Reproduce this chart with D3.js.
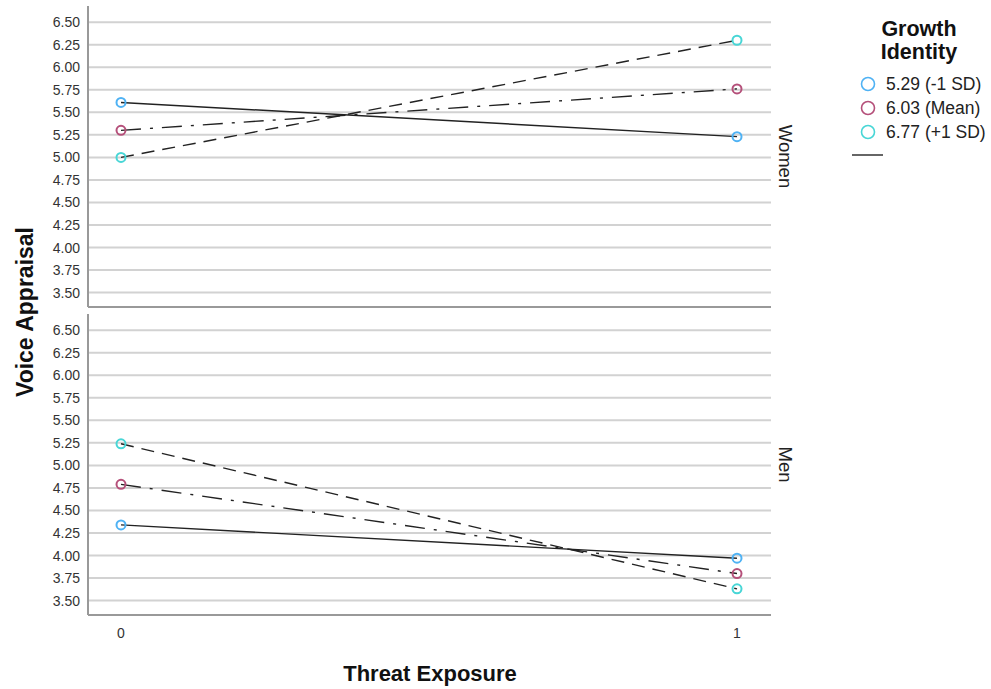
<!DOCTYPE html>
<html>
<head>
<meta charset="utf-8">
<script src="https://cdn.jsdelivr.net/npm/d3@7"></script>
<style>
  body { margin: 0; background: #fff; }
  svg { font-family: "Liberation Sans", Arial, sans-serif; }
</style>
</head>
<body>
<svg id="chart" width="991" height="689"></svg>
<script>
// chart values
var panels = ['Women', 'Men']
var threat = [0, 1]
var xTickLabels = ['0', '1']
var groups = ['5.29 (-1 SD)', '6.03 (Mean)', '6.77 (+1 SD)']
var womenVals = [[5.61, 5.23], [5.30, 5.76], [5.00, 6.30]]
var menVals = [[4.34, 3.97], [4.79, 3.80], [5.24, 3.63]]
var yTicks = [3.50, 3.75, 4.00, 4.25, 4.50, 4.75, 5.00, 5.25, 5.50, 5.75, 6.00, 6.25, 6.50]
var legendTitle = ['Growth', 'Identity']

var colors = ['#4fb2f4', '#b5507a', '#48d6d6']
var dashes = [null, '20,9,3,9', '13,8']

var svg = d3.select('#chart')

var left = 88, right = 771
var x = d3.scaleLinear().domain([0, 1]).range([121, 737])

var panelRanges = [[307, 6], [615, 314]]
var panelVals = [womenVals, menVals]

panels.forEach(function (name, pi) {
  var r = panelRanges[pi]
  var y = d3.scaleLinear().domain([3.34, 6.68]).range(r)
  var g = svg.append('g')

  // gridlines
  g.selectAll('line.grid')
    .data(yTicks)
    .enter().append('line')
    .attr('class', 'grid')
    .attr('x1', left).attr('x2', right)
    .attr('y1', function (d) { return y(d) })
    .attr('y2', function (d) { return y(d) })
    .attr('stroke', '#d2d2d2')
    .attr('stroke-width', 2)

  // y axis
  var yAxis = d3.axisLeft(y)
    .tickValues(yTicks)
    .tickSize(0)
    .tickPadding(8)
    .tickFormat(d3.format('.2f'))
  var ag = g.append('g').attr('transform', 'translate(' + left + ',0)').call(yAxis)
  ag.select('.domain').remove()
  ag.selectAll('text')
    .attr('font-size', 14)
    .attr('fill', '#333')
    .attr('font-family', '"Liberation Sans", Arial, sans-serif')

  // frame: left + bottom
  g.append('line')
    .attr('x1', left).attr('x2', left)
    .attr('y1', r[1]).attr('y2', r[0])
    .attr('stroke', '#999').attr('stroke-width', 2)
  g.append('line')
    .attr('x1', left).attr('x2', right)
    .attr('y1', r[0]).attr('y2', r[0])
    .attr('stroke', '#999').attr('stroke-width', 2)

  // lines
  var line = d3.line()
    .x(function (d, i) { return x(threat[i]) })
    .y(function (d) { return y(d) })

  panelVals[pi].forEach(function (vals, gi) {
    g.append('path')
      .datum(vals)
      .attr('d', line)
      .attr('fill', 'none')
      .attr('stroke', '#222')
      .attr('stroke-width', 1.4)
      .attr('stroke-dasharray', dashes[gi])
  })

  panelVals[pi].forEach(function (vals, gi) {
    g.selectAll('circle.g' + gi)
      .data(vals)
      .enter().append('circle')
      .attr('class', 'g' + gi)
      .attr('cx', function (d, i) { return x(threat[i]) })
      .attr('cy', function (d) { return y(d) })
      .attr('r', 4.5)
      .attr('fill', 'none')
      .attr('stroke', colors[gi])
      .attr('stroke-width', 2)
  })

  // facet label, rotated
  var cy = (r[0] + r[1]) / 2
  g.append('text')
    .attr('transform', 'translate(779,' + cy + ') rotate(90)')
    .attr('text-anchor', 'middle')
    .attr('font-size', 18.5)
    .attr('fill', '#222')
    .text(name)
})

// x tick labels
svg.selectAll('text.xt')
  .data(threat)
  .enter().append('text')
  .attr('class', 'xt')
  .attr('x', function (d) { return x(d) })
  .attr('y', 638)
  .attr('text-anchor', 'middle')
  .attr('font-size', 14)
  .attr('fill', '#333')
  .text(function (d, i) { return xTickLabels[i] })

// axis titles
svg.append('text')
  .attr('x', 430).attr('y', 681)
  .attr('text-anchor', 'middle')
  .attr('font-size', 22)
  .attr('font-weight', 'bold')
  .attr('fill', '#111')
  .text('Threat Exposure')

svg.append('text')
  .attr('transform', 'translate(33,312) rotate(-90)')
  .attr('text-anchor', 'middle')
  .attr('font-size', 23)
  .attr('font-weight', 'bold')
  .attr('fill', '#111')
  .text('Voice Appraisal')

// legend
var lg = svg.append('g')
lg.selectAll('text.lt')
  .data(legendTitle)
  .enter().append('text')
  .attr('class', 'lt')
  .attr('x', 919)
  .attr('y', function (d, i) { return 36 + i * 23 })
  .attr('text-anchor', 'middle')
  .attr('font-size', 21.5)
  .attr('font-weight', 'bold')
  .attr('fill', '#111')
  .text(function (d) { return d })

var items = lg.selectAll('g.item')
  .data(groups)
  .enter().append('g')
  .attr('class', 'item')
  .attr('transform', function (d, i) { return 'translate(0,' + (84 + i * 24) + ')' })

items.append('circle')
  .attr('cx', 868).attr('cy', 0).attr('r', 6.5)
  .attr('fill', 'none')
  .attr('stroke', function (d, i) { return colors[i] })
  .attr('stroke-width', 1.6)

items.append('text')
  .attr('x', 886).attr('y', 6)
  .attr('font-size', 17.5)
  .attr('fill', '#222')
  .text(function (d) { return d })

lg.append('line')
  .attr('x1', 852).attr('x2', 883)
  .attr('y1', 155).attr('y2', 155)
  .attr('stroke', '#666').attr('stroke-width', 2)
</script>
</body>
</html>
